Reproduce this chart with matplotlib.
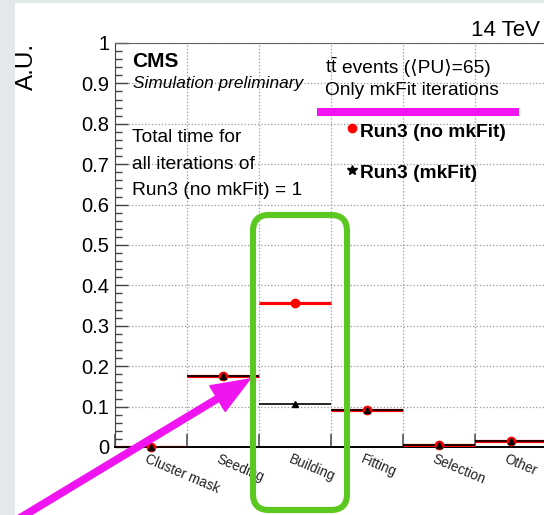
import matplotlib.pyplot as plt
from matplotlib.lines import Line2D
from matplotlib.patches import Rectangle, FancyBboxPatch, FancyArrow
from matplotlib.ticker import MultipleLocator, FuncFormatter
from matplotlib.transforms import Affine2D

plt.rcParams['font.family'] = ['Liberation Sans', 'DejaVu Sans']
plt.rcParams['mathtext.fontset'] = 'custom'
plt.rcParams['mathtext.rm'] = 'Liberation Sans'

# Relative timing per step, normalised to total of Run3 (no mkFit)
steps = ["Cluster mask", "Seeding", "Building", "Fitting", "Selection", "Other"]
run3_no_mkfit = [0.0, 0.176, 0.357, 0.092, 0.006, 0.014]
run3_mkfit = [0.0, 0.176, 0.107, 0.092, 0.004, 0.016]

W, H = 544, 515
fig = plt.figure(figsize=(W / 100, H / 100), dpi=100)
fig.patch.set_facecolor('#e3e8eb')
fig.patches.append(Rectangle((15 / W, 0), 1, (H - 3) / H, transform=fig.transFigure,
                             facecolor='white', edgecolor='none', zorder=-5))

# pixel coordinates measured from the top-left corner
px = Affine2D().scale(1 / 100, -1 / 100).translate(0, H / 100) + fig.dpi_scale_trans


def ftext(x, y, s, **kw):
    return fig.text(x / W, 1 - y / H, s, **kw)


ax = fig.add_axes([115 / W, (H - 447) / H, 432 / W, 404 / H])
ax.set_facecolor('none')
ax.set_xlim(0, len(steps))
ax.set_ylim(0, 1)

for i, (a, b) in enumerate(zip(run3_no_mkfit, run3_mkfit)):
    ax.hlines(a, i, i + 1, color='red', lw=2.3, zorder=3)
    ax.hlines(b, i, i + 1, color='black', lw=1.2, zorder=4)
centers = [i + 0.5 for i in range(len(steps))]
ax.plot(centers, run3_no_mkfit, 'o', color='red', ms=6, zorder=5, clip_on=False)
ax.plot(centers, run3_mkfit, '^', color='black', ms=5, zorder=6, clip_on=False)

# axes styling
ax.set_xticks(range(len(steps) + 1))
ax.set_xticklabels([])
ax.yaxis.set_major_locator(MultipleLocator(0.1))
ax.yaxis.set_minor_locator(MultipleLocator(0.02))
ax.yaxis.set_major_formatter(FuncFormatter(lambda v, p: '%g' % round(v, 1)))
ax.tick_params(axis='y', which='major', direction='in', length=9, width=1,
               color='#444', labelsize=14.5, pad=4)
ax.tick_params(axis='y', which='minor', direction='in', length=5, width=1, color='#444')
ax.tick_params(axis='x', direction='in', length=9.5, width=1.2, color='#555')
ax.grid(True, which='major', ls=':', color='#999', lw=0.9)
ax.set_axisbelow(True)
ax.spines['left'].set_color('#444')
ax.spines['top'].set_color('#666')
ax.spines['right'].set_visible(False)
ax.spines['bottom'].set_linewidth(1.4)

for c, name in zip(centers, steps):
    ax.text(c - 0.04, -0.012, name, rotation=-23, rotation_mode='anchor',
            ha='left', va='top', fontsize=9.8, color='#222', clip_on=False)

# labels
ftext(540, 36, "14 TeV", ha='right', va='baseline', fontsize=16)
ftext(27, 43, "A.U.", rotation=90, ha='center', va='top', fontsize=17.5)
ftext(132, 67, "CMS", fontweight='bold', fontsize=15, va='baseline')
ftext(133, 88, "Simulation preliminary", style='italic', fontsize=12.4, va='baseline')
for y, s in zip([142, 169, 195], ["Total time for", "all iterations of", "Run3 (no mkFit) = 1"]):
    ftext(132, y, s, fontsize=13.8, va='baseline')
ttbar = ftext(325, 73, r"$\mathrm{t\bar{t}}$", fontsize=13.8, va='baseline')
bb = ttbar.get_window_extent(fig.canvas.get_renderer())
fig.text((bb.x1 + 4) / W, 1 - 73 / H, "events (⟨PU⟩=65)", fontsize=13.8, va='baseline')
ftext(325, 95, "Only mkFit iterations", fontsize=13.8, va='baseline')

# legend
fig.add_artist(Line2D([352 / W], [1 - 128 / H], marker='o', color='red', ms=6,
                      transform=fig.transFigure))
fig.add_artist(Line2D([352 / W], [1 - 170 / H], marker='*', color='black', ms=7,
                      transform=fig.transFigure))
ftext(360, 137, "Run3 (no mkFit)", fontweight='bold', fontsize=13.8, va='baseline')
ftext(360, 178, "Run3 (mkFit)", fontweight='bold', fontsize=13.8, va='baseline')

# highlights
magenta = '#f014f0'
fig.patches.append(Rectangle((317, 116), 202, -8, transform=px, facecolor=magenta,
                             edgecolor='none', zorder=10))
fig.patches.append(FancyBboxPatch((253, 215), 94, 295, transform=px,
                                  boxstyle='round,pad=0,rounding_size=16',
                                  facecolor='none', edgecolor='#5ac81e', lw=4.4, zorder=10))
fig.patches.append(FancyArrow(10, 524, 240, -145, width=6.5, head_width=30, head_length=38,
                              length_includes_head=True, transform=px,
                              color=magenta, zorder=11))

fig.savefig('out.png', dpi=100, facecolor=fig.get_facecolor())
